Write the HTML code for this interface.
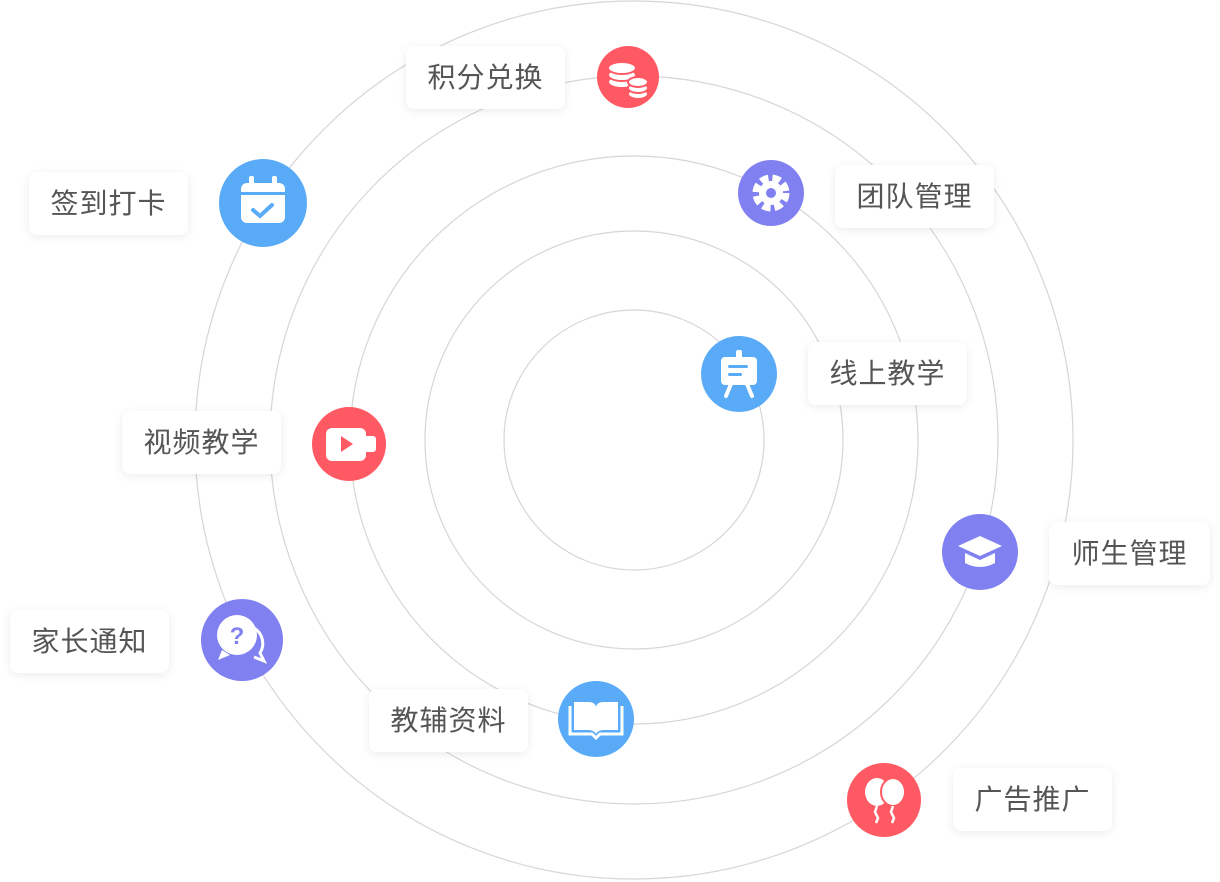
<!DOCTYPE html>
<html><head><meta charset="utf-8"><style>
body{margin:0;width:1220px;height:882px;background:#fff;position:relative;overflow:hidden;font-family:"Liberation Sans","Noto Sans CJK SC",sans-serif}
.l{position:absolute;width:159px;height:63px;background:#fff;border-radius:8px;box-shadow:0 2px 10px rgba(0,0,0,0.08);color:#555;font-size:28px;line-height:63px;text-align:center;letter-spacing:1px}
svg{position:absolute;left:0;top:0}
</style></head><body>
<svg width="1220" height="882">
<g fill="none" stroke="#d6d6d6" stroke-width="1.2">
<circle cx="634" cy="440" r="130"/><circle cx="634" cy="440" r="209"/><circle cx="634" cy="440" r="284"/><circle cx="634" cy="440" r="364"/><circle cx="634" cy="440" r="439"/>
</g>
</svg>
<div class="l" style="left:406px;top:46px">积分兑换</div>
<div class="l" style="left:29px;top:172px">签到打卡</div>
<div class="l" style="left:835px;top:165px">团队管理</div>
<div class="l" style="left:808px;top:342px">线上教学</div>
<div class="l" style="left:122px;top:411px">视频教学</div>
<div class="l" style="left:1049px;top:522px;width:161px">师生管理</div>
<div class="l" style="left:10px;top:610px">家长通知</div>
<div class="l" style="left:369px;top:689px">教辅资料</div>
<div class="l" style="left:953px;top:768px">广告推广</div>
<svg width="1220" height="882">
<!-- coins -->
<circle cx="628" cy="77" r="31" fill="#ff5a64"/>
<g fill="#fff" stroke="#ff5a64" stroke-width="2">
<ellipse cx="622" cy="82" rx="14" ry="6"/><ellipse cx="622" cy="75" rx="14" ry="6"/><ellipse cx="622" cy="68" rx="14" ry="6"/>
<ellipse cx="638" cy="94" rx="10" ry="5"/><ellipse cx="638" cy="88" rx="10" ry="5"/><ellipse cx="638" cy="82" rx="10" ry="5"/>
</g>
<!-- calendar -->
<circle cx="263" cy="203" r="44" fill="#5aabf7"/>
<rect x="241" y="183" width="44" height="40" rx="6" fill="#fff"/>
<rect x="249" y="176" width="5" height="12" rx="2" fill="#fff"/><rect x="272" y="176" width="5" height="12" rx="2" fill="#fff"/>
<rect x="241" y="192" width="44" height="3" fill="#5aabf7"/>
<path d="M253 210l7 6 12-11" stroke="#5aabf7" stroke-width="4" fill="none" stroke-linecap="round"/>
<!-- gear -->
<circle cx="771" cy="193" r="33" fill="#8080f0"/>
<circle cx="771" cy="193" r="15" fill="none" stroke="#fff" stroke-width="7" stroke-dasharray="8 4"/>
<circle cx="771" cy="193" r="12" fill="#fff"/><circle cx="771" cy="193" r="5" fill="#8080f0"/>
<!-- easel -->
<circle cx="739" cy="374" r="38" fill="#5aabf7"/>
<rect x="721" y="357" width="36" height="28" rx="4" fill="#fff"/>
<rect x="736" y="350" width="6" height="9" rx="2" fill="#fff"/>
<rect x="728" y="365" width="20" height="3" rx="1.5" fill="#5aabf7"/><rect x="728" y="373" width="14" height="3" rx="1.5" fill="#5aabf7"/>
<path d="M731 384l-5 12M747 384l5 12" stroke="#fff" stroke-width="4" stroke-linecap="round"/>
<!-- video -->
<circle cx="349" cy="444" r="37" fill="#ff5a64"/>
<rect x="326" y="428" width="40" height="33" rx="6" fill="#fff"/>
<rect x="364" y="436" width="12" height="16" rx="3" fill="#fff"/>
<path d="M341 436l12 8-12 8z" fill="#ff5a64"/>
<!-- grad cap -->
<circle cx="980" cy="552" r="38" fill="#8080f0"/>
<path d="M958 546l22-10 22 10-22 10z" fill="#fff"/>
<path d="M965 553v10q15 8 30 0v-10l-15 7z" fill="#fff"/>
<!-- question -->
<circle cx="242" cy="640" r="41" fill="#8080f0"/>
<circle cx="237" cy="635" r="20" fill="#fff"/>
<path d="M222 650l-4 10 12-5z" fill="#fff"/>
<path d="M254 628a18 18 0 0 1 6 25l4 8-10-4" stroke="#fff" stroke-width="3" fill="none"/>
<text x="237" y="644" font-size="24" font-weight="bold" fill="#8080f0" text-anchor="middle" font-family="Liberation Sans">?</text>
<!-- book -->
<circle cx="596" cy="719" r="38" fill="#5aabf7"/>
<path d="M574 702h14q8 0 8 6v26q-2-4-8-4h-14z M618 702h-14q-8 0-8 6v26q2-4 8-4h14z" fill="#fff"/>
<path d="M570 706v28h22l4 4 4-4h22v-28" stroke="#fff" stroke-width="3" fill="none"/>
<!-- balloons -->
<circle cx="884" cy="800" r="37" fill="#ff5a64"/>
<ellipse cx="877" cy="792" rx="12" ry="14" fill="#fff"/>
<ellipse cx="893" cy="792" rx="12" ry="14" fill="#fff" stroke="#ff5a64" stroke-width="2"/>
<path d="M877 806l-2 6 3 6-2 5M893 806l-2 6 3 6-2 5" stroke="#fff" stroke-width="2.5" fill="none"/>
</svg>
</body></html>
